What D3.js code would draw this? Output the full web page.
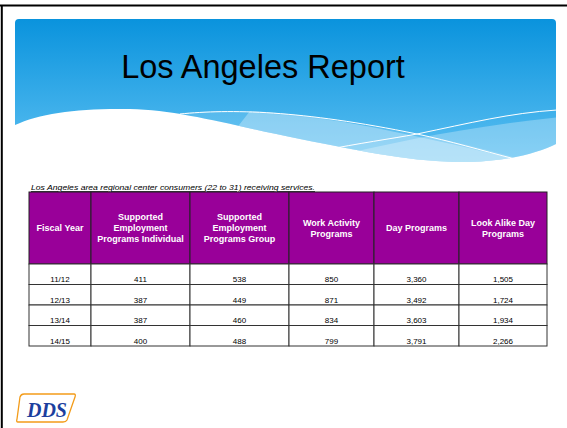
<!DOCTYPE html>
<html>
<head>
<meta charset="utf-8">
<script src="https://cdn.jsdelivr.net/npm/d3@7"></script>
<style>
  body { margin: 0; background: #fff; }
  svg { display: block; font-family: "Liberation Sans", Arial, sans-serif; }
</style>
</head>
<body>
<script>
// table data
const headers = [
  ["Fiscal Year"],
  ["Supported", "Employment", "Programs Individual"],
  ["Supported", "Employment", "Programs Group"],
  ["Work Activity", "Programs"],
  ["Day Programs"],
  ["Look Alike Day", "Programs"]
];
const years = ["11/12", "12/13", "13/14", "14/15"];
const sepIndividual = ["411", "387", "387", "400"];
const sepGroup = ["538", "449", "460", "488"];
const workActivity = ["850", "871", "834", "799"];
const dayPrograms = ["3,360", "3,492", "3,603", "3,791"];
const lookAlike = ["1,505", "1,724", "1,934", "2,266"];
const title = "Los Angeles Report";
const caption = "Los Angeles area regional center consumers (22 to 31) receiving services.";

const columns = [years, sepIndividual, sepGroup, workActivity, dayPrograms, lookAlike];

const W = 567, H = 428;
const svg = d3.select("body").append("svg")
  .attr("width", W)
  .attr("height", H);

// slide frame
svg.append("line").attr("x1", 0).attr("x2", W).attr("y1", 5.5).attr("y2", 5.5)
  .attr("stroke", "#000").attr("stroke-width", 2);
svg.append("line").attr("x1", 1.8).attr("x2", 1.8).attr("y1", 5).attr("y2", H)
  .attr("stroke", "#000").attr("stroke-width", 2);

// banner
const defs = svg.append("defs");
const grad = defs.append("linearGradient").attr("id", "bg")
  .attr("x1", 0).attr("y1", 0).attr("x2", 0).attr("y2", 1);
grad.append("stop").attr("offset", "0%").attr("stop-color", "#0a93dd");
grad.append("stop").attr("offset", "100%").attr("stop-color", "#5cc0f2");

const bannerPath = "M15,23 Q15,19 19,19 L552,19 Q556,19 556,23 L556,144 " +
  "C540,152 510,161 470,162 C420,163 370,153 300,139 " +
  "C230,125 180,110 130,109 C80,108 40,113 15,125 Z";

defs.append("clipPath").attr("id", "bclip").append("path").attr("d", bannerPath);

svg.append("path").attr("d", bannerPath).attr("fill", "url(#bg)");

const waves = svg.append("g").attr("clip-path", "url(#bclip)");
// soft band following the upper white line
waves.append("path")
  .attr("d", "M170,114 C220,108 300,112 420,135 C460,143 500,152 540,165 L300,170 L150,120 Z")
  .attr("fill", "#fff").attr("opacity", 0.12);
// lighter band on the left-centre
waves.append("path")
  .attr("d", "M250,111 C300,114 340,120 400,133 C450,143 520,160 560,170 L560,175 L200,175 Z")
  .attr("fill", "#fff").attr("opacity", 0.3);
// lighter band rising to the right
waves.append("path")
  .attr("d", "M320,160 C400,140 480,125 560,117 L560,175 L320,175 Z")
  .attr("fill", "#fff").attr("opacity", 0.28);
// thin white lines
waves.append("path")
  .attr("d", "M180,114 C230,109 300,110 417,134 C450,141 480,150 515,159")
  .attr("fill", "none").attr("stroke", "#fff").attr("stroke-width", 1);
waves.append("path")
  .attr("d", "M320,151 C360,143 390,139 417,134 C470,123 510,113 557,110")
  .attr("fill", "none").attr("stroke", "#fff").attr("stroke-width", 1);

svg.append("text")
  .attr("x", 263).attr("y", 78)
  .attr("text-anchor", "middle")
  .attr("font-size", 32.5)
  .attr("fill", "#000")
  .text(title);

// caption
svg.append("text")
  .attr("x", 31).attr("y", 190)
  .attr("font-size", 7.7)
  .attr("font-style", "italic")
  .attr("text-decoration", "underline")
  .attr("textLength", 284)
  .attr("lengthAdjust", "spacingAndGlyphs")
  .text(caption);

// table scales
const edges = [29, 91, 190, 289, 374, 459, 547];
const x = d3.scaleLinear().domain(d3.range(edges.length)).range(edges);
const headTop = 192, headBottom = 264, tableBottom = 346;
const y = d3.scaleBand().domain(years).range([headBottom, tableBottom]);

const table = svg.append("g");

// header cells
table.selectAll("rect.head")
  .data(headers)
  .join("rect")
  .attr("class", "head")
  .attr("x", (d, i) => x(i))
  .attr("y", headTop)
  .attr("width", (d, i) => x(i + 1) - x(i))
  .attr("height", headBottom - headTop)
  .attr("fill", "#990099")
  .attr("stroke", "#222")
  .attr("stroke-width", 1);

table.selectAll("text.head")
  .data(headers)
  .join("text")
  .attr("class", "head")
  .attr("x", (d, i) => (x(i) + x(i + 1)) / 2)
  .attr("y", (headTop + headBottom) / 2)
  .attr("text-anchor", "middle")
  .attr("font-size", 9)
  .attr("font-weight", "bold")
  .attr("fill", "#fff")
  .each(function (d) {
    const t = d3.select(this);
    const lh = 11;
    const start = -(d.length - 1) * lh / 2 + 3;
    d.forEach((line, k) => {
      t.append("tspan")
        .attr("x", t.attr("x"))
        .attr("y", (headTop + headBottom) / 2 + start + k * lh)
        .text(line);
    });
  });

// body cells
const cells = [];
columns.forEach((col, ci) => col.forEach((v, ri) => cells.push({ ci, ri, v })));

table.selectAll("rect.cell")
  .data(cells)
  .join("rect")
  .attr("class", "cell")
  .attr("x", d => x(d.ci))
  .attr("y", d => y(years[d.ri]))
  .attr("width", d => x(d.ci + 1) - x(d.ci))
  .attr("height", y.bandwidth())
  .attr("fill", "#fff")
  .attr("stroke", "#333")
  .attr("stroke-width", 1);

table.selectAll("text.cell")
  .data(cells)
  .join("text")
  .attr("class", "cell")
  .attr("x", d => (x(d.ci) + x(d.ci + 1)) / 2)
  .attr("y", d => y(years[d.ri]) + y.bandwidth() - 2.5)
  .attr("text-anchor", "middle")
  .attr("font-size", 8)
  .attr("fill", "#000")
  .text(d => d.v);

// DDS logo
const logo = svg.append("g");
logo.append("path")
  .attr("d", "M24,394 L74,394 Q76,394 75,397 L67,420 Q66,422 63,422 L18,422 Q16,422 17,419 L20,397 Q21,394 24,394 Z")
  .attr("fill", "#fff").attr("stroke", "#f39c1a").attr("stroke-width", 1.3);
logo.append("text")
  .attr("x", 47).attr("y", 417)
  .attr("text-anchor", "middle")
  .attr("font-family", "'Liberation Serif', 'DejaVu Serif', serif")
  .attr("font-weight", "bold")
  .attr("font-style", "italic")
  .attr("font-size", 20)
  .attr("fill", "#1c3f9e")
  .text("DDS");
</script>
</body>
</html>
